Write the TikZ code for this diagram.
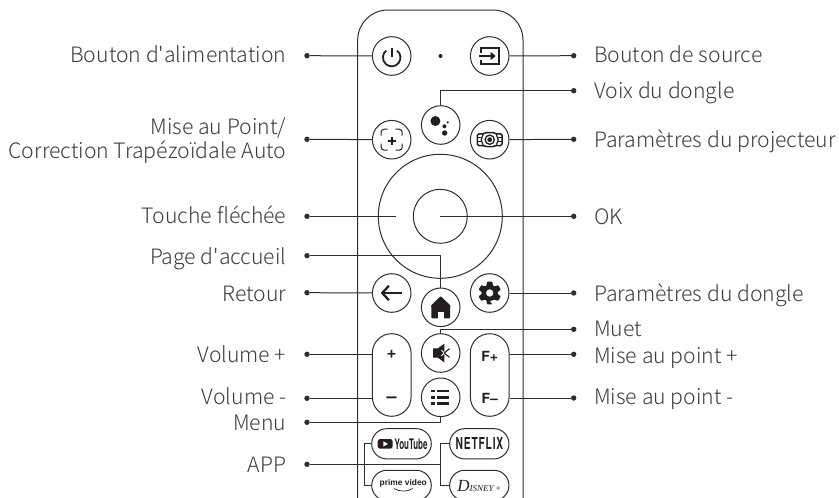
\documentclass[tikz,border=0pt]{standalone}
\usepackage{fontspec}
\usetikzlibrary{shapes.misc}
\newfontfamily\labelfont{Noto Sans CJK SC Light}
\newfontfamily\logofont[FakeStretch=0.62,LetterSpace=5]{TeX Gyre Heros Bold}
\newfontfamily\ytfont[FakeStretch=0.55]{TeX Gyre Heros Bold}
\newfontfamily\btnfont{TeX Gyre Heros Bold}
\newfontfamily\primefont{Liberation Sans}
\newfontfamily\disneyfont{Liberation Serif Italic}
\definecolor{ink}{HTML}{2E2E2E}
\definecolor{txt}{HTML}{3C3C3C}
\definecolor{icon}{HTML}{231F20}
\tikzset{
  lab/.style={font=\labelfont\fontsize{21.2}{21.2}\selectfont,text=txt,inner sep=0pt},
  labl/.style={lab,anchor=base east},
  labr/.style={lab,anchor=base west},
  tip/.style={circle,fill=ink,inner sep=0pt,minimum size=5.4pt},
  btn/.style={circle,draw=ink,line width=1pt,inner sep=0pt,minimum size=38.6pt},
  pill/.style={rounded rectangle,draw=ink,line width=1pt,inner sep=0pt},
  vpill/.style={rectangle,rounded corners=19.3pt,draw=ink,line width=1pt,inner sep=0pt,minimum width=38.7pt,minimum height=82.6pt},
  lead/.style={draw=ink,line width=1pt},
  ico/.style={draw=icon,line width=1.8pt},
}
\begin{document}
\begin{tikzpicture}[x=1pt,y=-1pt]
\useasboundingbox (0,0) rectangle (839,498);
\begin{scope}
\clip (0,0) rectangle (839,498);
% remote body
\draw[ink,line width=1pt] (357.7,510) -- (357.7,40) arc[start angle=180,end angle=270,radius=30] -- (493,10) arc[start angle=270,end angle=360,radius=30] -- (523,510);
% buttons
\node[btn] (power) at (391.7,56) {};
\node[circle,fill=icon,inner sep=0pt,minimum size=4pt] (led) at (440.5,56) {};
\node[btn] (source) at (489.7,56) {};
\node[btn] (voice) at (440.7,125) {};
\node[btn] (focus) at (391.7,139.7) {};
\node[btn] (proj) at (489.7,139.7) {};
\node[circle,draw=ink,line width=1pt,minimum size=124pt,inner sep=0pt] (dpad) at (440.3,216.3) {};
\node[circle,draw=ink,line width=1pt,minimum size=54pt,inner sep=0pt] (okb) at (440.3,216.3) {};
\node[btn] (back) at (391.7,293) {};
\node[btn] (home) at (440.7,307.3) {};
\node[btn] (gear) at (489.7,293) {};
\node[btn] (mute) at (440.7,353) {};
\node[btn] (menu) at (440.7,397.3) {};
\node[vpill] (vol) at (391.7,375) {};
\node[vpill] (foc) at (489.7,375) {};
\node[pill,minimum width=59.6pt,minimum height=30.3pt] (yt) at (401.5,443.8) {};
\node[pill,minimum width=59.3pt,minimum height=30.3pt] (nf) at (479.3,443.8) {};
\node[pill,minimum width=59.6pt,minimum height=30.3pt] (pv) at (401.5,485.4) {};
\node[pill,minimum width=59.3pt,minimum height=30.3pt] (dn) at (479.3,485.4) {};
% labels left
\node[labl] at (286.5,62.7) {Bouton d'alimentation};
\node[labl] at (286.5,134) {Mise au Point/};
\node[labl] at (286.5,158.3) {Correction Trapézoïdale Auto};
\node[labl] at (286.5,223) {Touche fléchée};
\node[labl] at (286.5,264) {Page d'accueil};
\node[labl] at (286.5,301.7) {Retour};
\node[labl] at (286.5,362.7) {Volume +};
\node[labl] at (286.5,404) {Volume -};
\node[labl] at (286.5,430) {Menu};
\node[labl] at (286.5,472.3) {APP};
% labels right
\node[labr] at (594,62.7) {Bouton de source};
\node[labr] at (594,98) {Voix du dongle};
\node[labr] at (594,147.3) {Paramètres du projecteur};
\node[labr] at (594,224) {OK};
\node[labr] at (594,301.7) {Paramètres du dongle};
\node[labr] at (594,336.7) {Muet};
\node[labr] at (594,363.3) {Mise au point +};
\node[labr] at (594,404) {Mise au point -};
% leader ends
\node[tip] (l1) at (307,55.7) {};
\node[tip] (l2) at (307,139.3) {};
\node[tip] (l3) at (307,216.3) {};
\node[tip] (l4) at (307,255.7) {};
\node[tip] (l5) at (307,292.7) {};
\node[tip] (l6) at (307,354.3) {};
\node[tip] (l7) at (307,398.3) {};
\node[tip] (l8) at (307,422.3) {};
\node[tip] (l9) at (307,464.3) {};
\node[tip] (r1) at (573.7,55.7) {};
\node[tip] (r2) at (573.7,90.7) {};
\node[tip] (r3) at (573.7,139.3) {};
\node[tip] (r4) at (573.7,216.3) {};
\node[tip] (r5) at (573.7,293) {};
\node[tip] (r6) at (573.7,329.3) {};
\node[tip] (r7) at (573.7,354.3) {};
\node[tip] (r8) at (573.7,398) {};
\coordinate (arrowkey) at (396,216.3);
\coordinate (appjoin) at (440.7,464.3);
\coordinate (ytjoin) at (364.3,443.8);
\coordinate (pvjoin) at (364.3,485);
\coordinate (nfjoin) at (440.7,443.8);
\coordinate (dnjoin) at (440.7,485);
% leaders
\draw[lead] (l1) -- (power);
\draw[lead] (l2) -- (focus);
\draw[lead] (l3) -- (arrowkey);
\draw[lead] (l4) -| (home);
\draw[lead] (l5) -- (back);
\draw[lead] (l6) -- (l6 -| vol.west);
\draw[lead] (l7) -- (l7 -| vol.west);
\draw[lead] (l8) -| (menu);
\draw[lead] (l9) -- (appjoin);
\draw[lead] (r1) -- (source);
\draw[lead] (r2) -| (voice);
\draw[lead] (r3) -- (proj);
\draw[lead] (r4) -- (okb.center);
\draw[lead] (r5) -- (gear);
\draw[lead] (r6) -| (mute);
\draw[lead] (r7) -- (r7 -| foc.east);
\draw[lead] (r8) -- (r8 -| foc.east);
\draw[lead] (yt.west) -- (ytjoin) -- (pvjoin) -- (pvjoin -| pv.west);
\draw[lead] (nf.west) -- (nfjoin) -- (dnjoin) -- (dnjoin -| dn.west);
% icons
\begin{scope}[shift={(power.center)}]
 \draw[ico] (5.4,-5.4) arc[start angle=-52,end angle=232,radius=8.8];
 \draw[ico] (0,-8.3) -- (0,0.7);
\end{scope}
\begin{scope}[shift={(source.center)}]
 \draw[ico,line width=2pt] (-9,-3.5) -- (-9,-8) -- (9,-8) -- (9,8) -- (-9,8) -- (-9,3.5);
 \draw[ico] (-10.5,0) -- (2,0);
 \fill[icon] (1,-4) -- (6,0) -- (1,4) -- cycle;
\end{scope}
\begin{scope}[shift={(voice.center)}]
 \fill[icon] (-5.3,-4) circle[radius=5];
 \fill[icon] (3.7,1.3) circle[radius=2];
 \fill[icon] (4,8) circle[radius=2.7];
 \fill[icon] (7,-2.7) circle[radius=1.2];
\end{scope}
\begin{scope}[shift={(focus.center)}]
 \draw[icon,line width=1pt] (-10.5,-4) -- (-10.5,-7.5) arc[start angle=180,end angle=270,radius=3] -- (-4,-10.5);
 \draw[icon,line width=1pt] (4,-10.5) -- (7.5,-10.5) arc[start angle=270,end angle=360,radius=3] -- (10.5,-4);
 \draw[icon,line width=1pt] (10.5,4) -- (10.5,7.5) arc[start angle=0,end angle=90,radius=3] -- (4,10.5);
 \draw[icon,line width=1pt] (-4,10.5) -- (-7.5,10.5) arc[start angle=90,end angle=180,radius=3] -- (-10.5,4);
 \draw[icon,line width=1.9pt] (-4.2,1) -- (4.2,1) (0,-3.2) -- (0,5.2);
\end{scope}
\begin{scope}[shift={(proj.center)}]
 \draw[icon,line width=1.5pt,rounded corners=1.5pt] (-12.4,-5.8) rectangle (12.4,5.8);
 \fill[white] (-7,-8) rectangle (7,8);
 \draw[icon,line width=1.5pt] (-7,-5.8) -- (-3,-7.2) -- (3,-7.2) -- (7,-5.8) (-7,5.8) -- (-3,6.8) -- (3,6.8) -- (7,5.8);
 \draw[icon,line width=1.3pt] (0,0) circle[radius=4.6];
 \fill[icon] (0,0) circle[radius=2.4];
 \draw[icon,line width=1.2pt] (-6.5,-5.8) -- (-8.5,0) -- (-6.5,5.8) (6.5,-5.8) -- (8.5,0) -- (6.5,5.8);
 \draw[icon,line width=1.2pt] (-12,-2) -- (-8.5,-2) (-12,2) -- (-8.5,2) (8.5,-2) -- (12,-2) (8.5,2) -- (12,2);
\end{scope}
\begin{scope}[shift={(back.center)}]
 \draw[ico,line width=2.3pt] (10.5,0) -- (-8,0);
 \draw[ico,line width=2.3pt] (-2.8,-7.2) -- (-9.5,0) -- (-2.8,7.2);
\end{scope}
\begin{scope}[shift={(home.center)}]
 \fill[icon,rounded corners=0.8pt] (0,-11.2) -- (10,-1.5) -- (9.3,-1.2) -- (9.3,11) -- (-9.3,11) -- (-9.3,-1.2) -- (-10,-1.5) -- cycle;
 \fill[white] (-3,4.5) rectangle (3,11.2);
\end{scope}
\begin{scope}[shift={(gear.center)}]
 \fill[icon,even odd rule,rounded corners=0.7pt]
  (90:8) foreach \a in {0,60,...,300} {
   -- ({\a+90-13}:11.6) -- ({\a+90+13}:11.6) -- ({\a+90+24}:8) -- ({\a+120+6}:8)
  } -- cycle (0,0) circle[radius=3.8];
\end{scope}
\begin{scope}[shift={(mute.center)}]
 \fill[icon] (-7.6,-4.6) -- (-3,-4.6) -- (3.6,-9.3) -- (3.6,9.3) -- (-3,4.6) -- (-7.6,4.6) -- cycle;
 \draw[white,line width=0.9pt] (0.8,-2.8) -- (3.6,0) -- (0.8,2.8);
 \draw[icon,line width=1.1pt] (3.6,0) -- (8.8,-4.4) (3.6,0) -- (8.8,4.4);
\end{scope}
\begin{scope}[shift={(menu.center)}]
 \draw[icon,line width=2.4pt] (-9.3,-6.5) -- (-5.5,-6.5) (-9.3,0) -- (-5.5,0) (-9.3,6) -- (-5.5,6);
 \draw[icon,line width=2.4pt] (-4,-6.5) -- (8.7,-6.5) (-4,0) -- (8.7,0) (-4,6) -- (8.7,6);
\end{scope}
\node[font=\btnfont\fontsize{17}{17}\selectfont,text=icon,inner sep=0pt] (volp) at (391.7,354.7) {+};
\node[font=\btnfont\fontsize{18}{18}\selectfont,text=icon,inner sep=0pt] (volm) at (391.7,400) {–};
\node[font=\btnfont\fontsize{14}{14}\selectfont,text=icon,inner sep=0pt] (fp) at (489.7,356.3) {F+};
\node[font=\btnfont\fontsize{14}{14}\selectfont,text=icon,inner sep=0pt] (fm) at (489.7,398) {F–};
% logos
\fill[icon,rounded corners=2.5pt] (377.7,439) rectangle (392.7,448.7);
\fill[white] (383.4,441.3) -- (388,443.9) -- (383.4,446.5) -- cycle;
\node[font=\ytfont\fontsize{14.5}{14}\selectfont,text=icon,inner sep=0pt,anchor=base west] (yttext) at (394.3,449) {YouTube};
\node[font=\logofont\fontsize{16.5}{16}\selectfont,text=icon,inner sep=0pt] (nftext) at (479.5,443) {NETFLIX};
\node[font=\primefont\fontsize{8.4}{8}\selectfont,text=icon,inner sep=0pt] (pvtext) at (403.3,483.7) {\textbf{prime video}};
\draw[icon,line width=0.7pt] (394,488.5) .. controls (400,492) and (407,492) .. (413,488.5);
\node[font=\disneyfont\fontsize{9}{9}\selectfont,text=icon,inner sep=0pt] (dntext) at (479.3,486.3) {{\fontsize{17}{17}\selectfont D}ISNEY\,+};
\end{scope}
\end{tikzpicture}
\end{document}
